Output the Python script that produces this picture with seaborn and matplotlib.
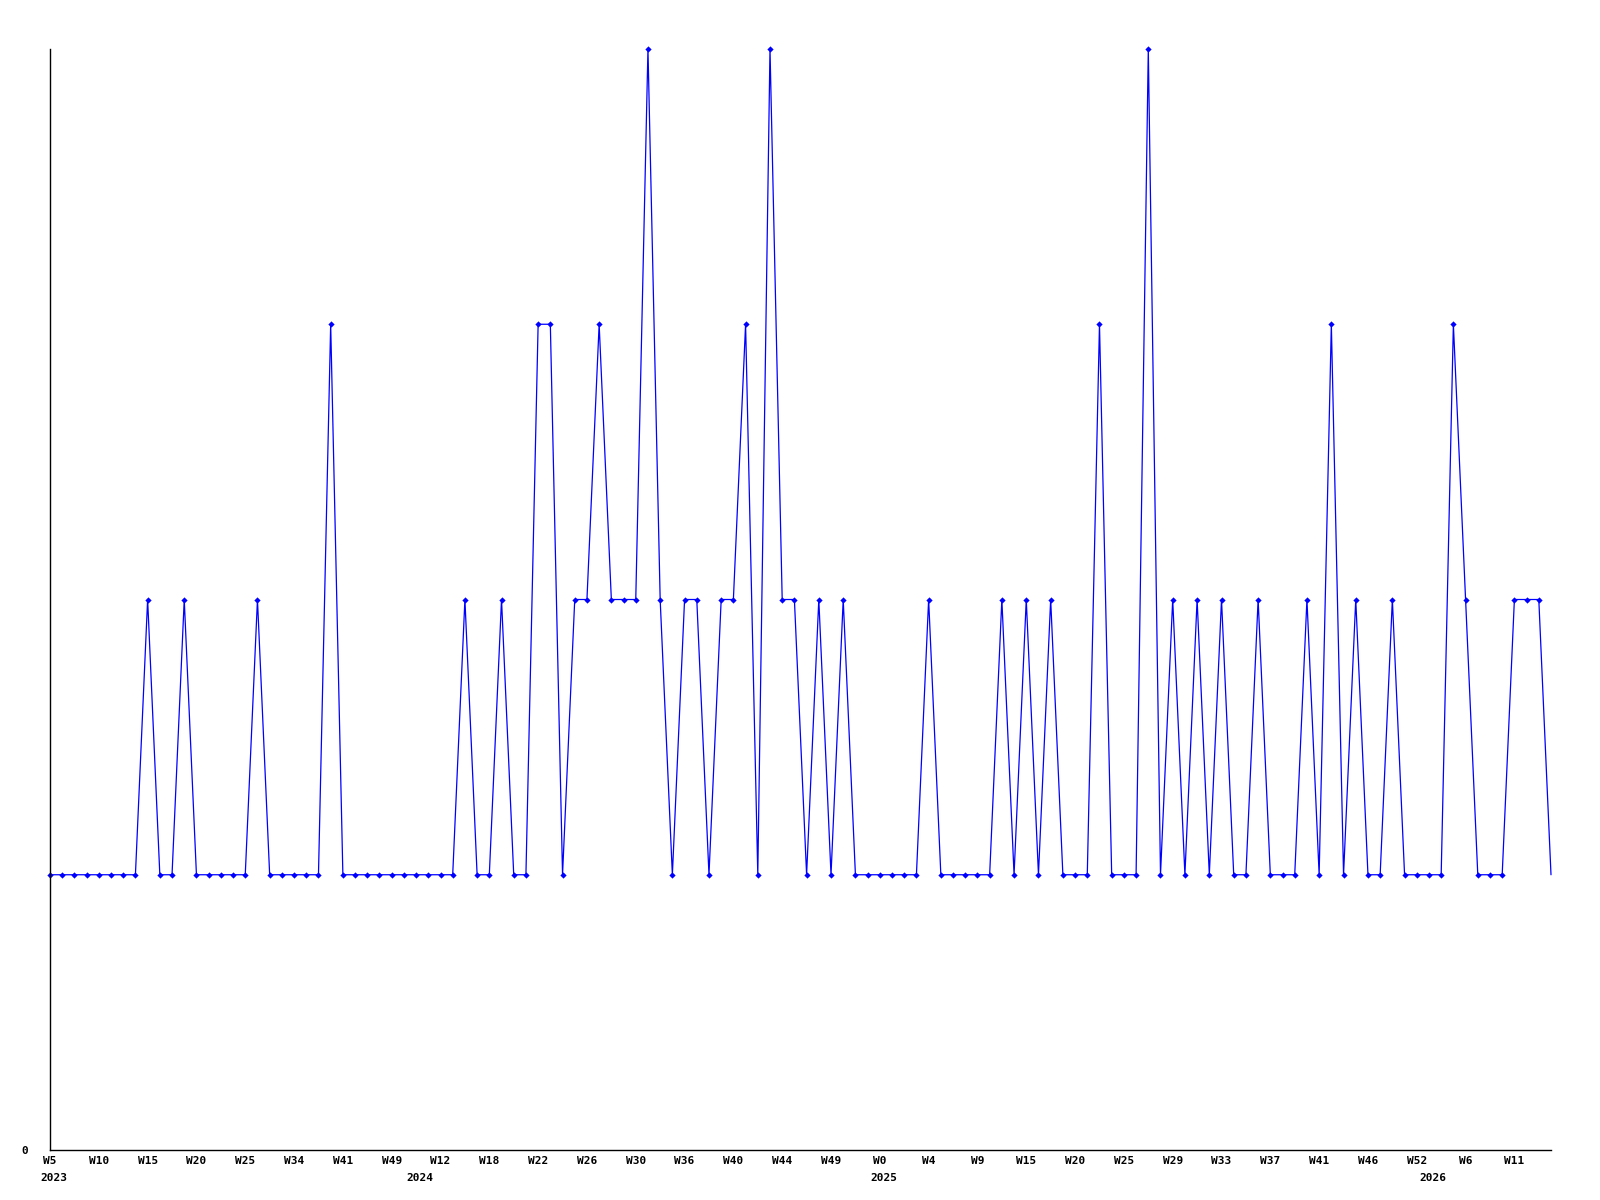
import numpy as np
import pandas as pd
import matplotlib
matplotlib.use("Agg")
import matplotlib.pyplot as plt
import seaborn as sns

# weekly counts, one per point
counts = [1, 1, 1, 1, 1, 1, 1, 1, 2, 1, 1, 2, 1, 1, 1, 1, 1, 2, 1, 1, 1, 1, 1, 3,
          1, 1, 1, 1, 1, 1, 1, 1, 1, 1, 2, 1, 1, 2, 1, 1, 3, 3, 1, 2, 2, 3, 2, 2, 2, 4,
          2, 1, 2, 2, 1, 2, 2, 3, 1, 4, 2, 2, 1, 2, 1, 2, 1, 1, 1, 1, 1, 1,
          2, 1, 1, 1, 1, 1, 2, 1, 2, 1, 2, 1, 1, 1, 3, 1, 1, 1, 4, 1, 2, 1, 2, 1,
          2, 1, 1, 2, 1, 1, 1, 2, 1, 3, 1, 2, 1, 1, 2, 1, 1, 1, 1, 3, 2, 1, 1, 1, 2, 2, 2, 1]

# labels shown on every 4th point
week_labels = ["W5", "W10", "W15", "W20", "W25", "W34", "W41", "W49",
               "W12", "W18", "W22", "W26", "W30", "W36", "W40", "W44",
               "W49", "W0", "W4", "W9", "W15", "W20", "W25", "W29",
               "W33", "W37", "W41", "W46", "W52", "W6", "W11"]

# first point of each year
years = ["2023", "2024", "2025", "2026"]
year_start = [0, 30, 68, 113]

df = pd.DataFrame({"point": np.arange(len(counts)), "count": counts})

sns.set_style("white")
plt.rcParams["font.family"] = ["DejaVu Sans Mono", "DejaVu Sans"]
plt.rcParams["text.color"] = "black"
plt.rcParams["xtick.color"] = "black"
plt.rcParams["ytick.color"] = "black"

fig = plt.figure(figsize=(16, 12), dpi=100)
ax = fig.add_axes([50 / 1600, 50 / 1200, 1501 / 1600, 1101 / 1200])

n = len(counts)
sns.lineplot(data=df, x="point", y="count", ax=ax, color="#0000ff",
             linewidth=0.9, marker="D", markersize=3.2, markeredgewidth=0,
             markevery=list(range(n - 1)), clip_on=False)

ax.set_xlim(0, n - 1)
ax.set_ylim(0, 4)

for s in ["top", "right"]:
    ax.spines[s].set_visible(False)
for s in ["left", "bottom"]:
    ax.spines[s].set_color("black")
    ax.spines[s].set_linewidth(1)

ax.set_xticks(range(0, n, 4))
ax.set_xticklabels(week_labels, fontsize=8, fontweight="bold")
ax.set_yticks([0])
ax.set_yticklabels(["0"], fontsize=8, fontweight="bold")
ax.tick_params(axis="x", length=0, pad=4)
ax.tick_params(axis="y", length=0, pad=16)
ax.set_xlabel("")
ax.set_ylabel("")

for yr, idx in zip(years, year_start):
    ax.annotate(yr, xy=(idx, 0), xycoords=("data", "axes fraction"),
                xytext=(3, -20), textcoords="offset points",
                ha="center", va="center", fontsize=8, fontweight="bold")

fig.savefig("out.png", dpi=100, facecolor="white")
